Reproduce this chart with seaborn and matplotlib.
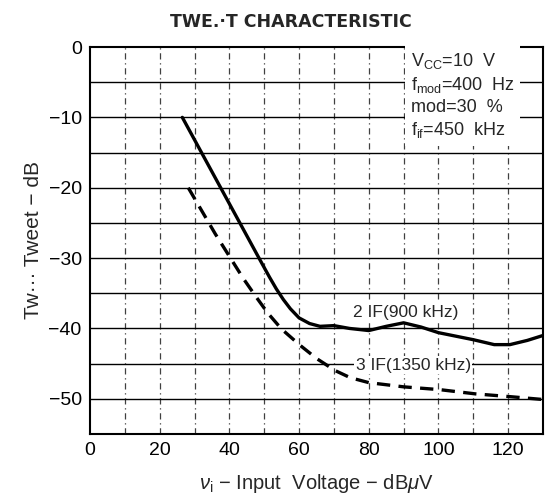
import numpy as np
import pandas as pd
import seaborn as sns
import matplotlib.pyplot as plt
from matplotlib.ticker import MultipleLocator

# values
x_2if = [26.5, 37.5, 48.5, 51.5, 53.5, 55.5, 57.5, 60, 63, 66, 70, 74.5,
         80, 85, 90, 95, 100, 105, 110, 116, 120.5, 125.5, 130]
y_2if = [-10, -20, -30, -32.7, -34.4, -35.9, -37.2, -38.5, -39.3,
         -39.7, -39.6, -40.0, -40.3, -39.7, -39.2, -39.8, -40.6, -41.1, -41.6,
         -42.3, -42.3, -41.7, -41.0]

x_3if = [28.2, 36, 44, 47.5, 51, 55, 60.3, 65.1, 70.4, 74.7, 80,
         90, 100.4, 110.6, 120.7, 130]
y_3if = [-20, -26.6, -32.9, -35.4, -37.8, -40.1, -42.4, -44.3,
         -46.0, -47.0, -47.7, -48.3, -48.7, -49.3, -49.7, -50.1]

x_ticks = [0, 20, 40, 60, 80, 100, 120]
y_ticks = [0, -10, -20, -30, -40, -50]

conditions = [r"V$_{\rm CC}$=10  V", r"f$_{\rm mod}$=400  Hz", "mod=30  %",
              r"f$_{\rm if}$=450  kHz"]

sns.set_style("white")
plt.rcParams['font.family'] = ['Liberation Sans', 'DejaVu Sans']
plt.rcParams['mathtext.fontset'] = 'custom'
plt.rcParams['mathtext.rm'] = 'Liberation Sans'
plt.rcParams['mathtext.it'] = 'Liberation Sans:italic'

fig = plt.figure(figsize=(5.51, 4.97), dpi=100)
ax = fig.add_axes([0.1633, 0.1268, 0.8222, 0.7786])

df2 = pd.DataFrame({'x': x_2if, 'y': y_2if})
df3 = pd.DataFrame({'x': x_3if, 'y': y_3if})
sns.lineplot(data=df2, x='x', y='y', ax=ax, color='black', lw=2.4, sort=False,
             zorder=5)
sns.lineplot(data=df3, x='x', y='y', ax=ax, color='black', lw=2.4, sort=False,
             zorder=5, linestyle=(0, (4, 2.5)))

ax.set_xlim(0, 130)
ax.set_ylim(-55, 0)
ax.set_xticks(x_ticks)
ax.set_yticks(y_ticks)
ax.set_yticklabels(['0' if v == 0 else '\u2212' + str(-v) for v in y_ticks])
ax.xaxis.set_minor_locator(MultipleLocator(10))
ax.yaxis.set_minor_locator(MultipleLocator(5))
ax.tick_params(which='both', length=0, labelsize=14, colors='black')
ax.tick_params(axis='x', pad=6)
ax.tick_params(axis='y', pad=6)

ax.grid(False)
for v in np.arange(10, 130, 10):
    ax.axvline(v, color='0.25', lw=0.9, linestyle=(0, (5, 3, 1, 3)), zorder=1)
for v in np.arange(-50, 0, 5):
    ax.axhline(v, color='black', lw=1.0, zorder=1)

for s in ax.spines.values():
    s.set_color('black')
    s.set_linewidth(1.5)

ax.text(92, -0.5, "\n".join(conditions), fontsize=13, va='top', ha='left',
        linespacing=1.3, zorder=6,
        bbox=dict(facecolor='white', edgecolor='none', pad=4))

ax.text(90.5, -37.7, "2 IF(900 kHz)", fontsize=12.5, ha='center', va='center',
        zorder=6, bbox=dict(facecolor='white', edgecolor='none', pad=1))
ax.text(92.8, -45.2, "3 IF(1350 kHz)", fontsize=12.5, ha='center', va='center',
        zorder=6, bbox=dict(facecolor='white', edgecolor='none', pad=1))

ax.set_xlabel("$\\nu_{\\rm i}$ \u2212 Input  Voltage \u2212 dB$\\mu$V",
              fontsize=14.5, labelpad=9)
ax.set_ylabel("Tw\u00b7\u00b7\u00b7 Tweet \u2212 dB", fontsize=15, labelpad=4)

fig.text(0.527, 0.956, "TWE.\u00b7T CHARACTERISTIC", fontsize=12.5, ha='center',
         va='center', fontweight='bold', family='DejaVu Sans')

plt.savefig('out.png', dpi=100)
